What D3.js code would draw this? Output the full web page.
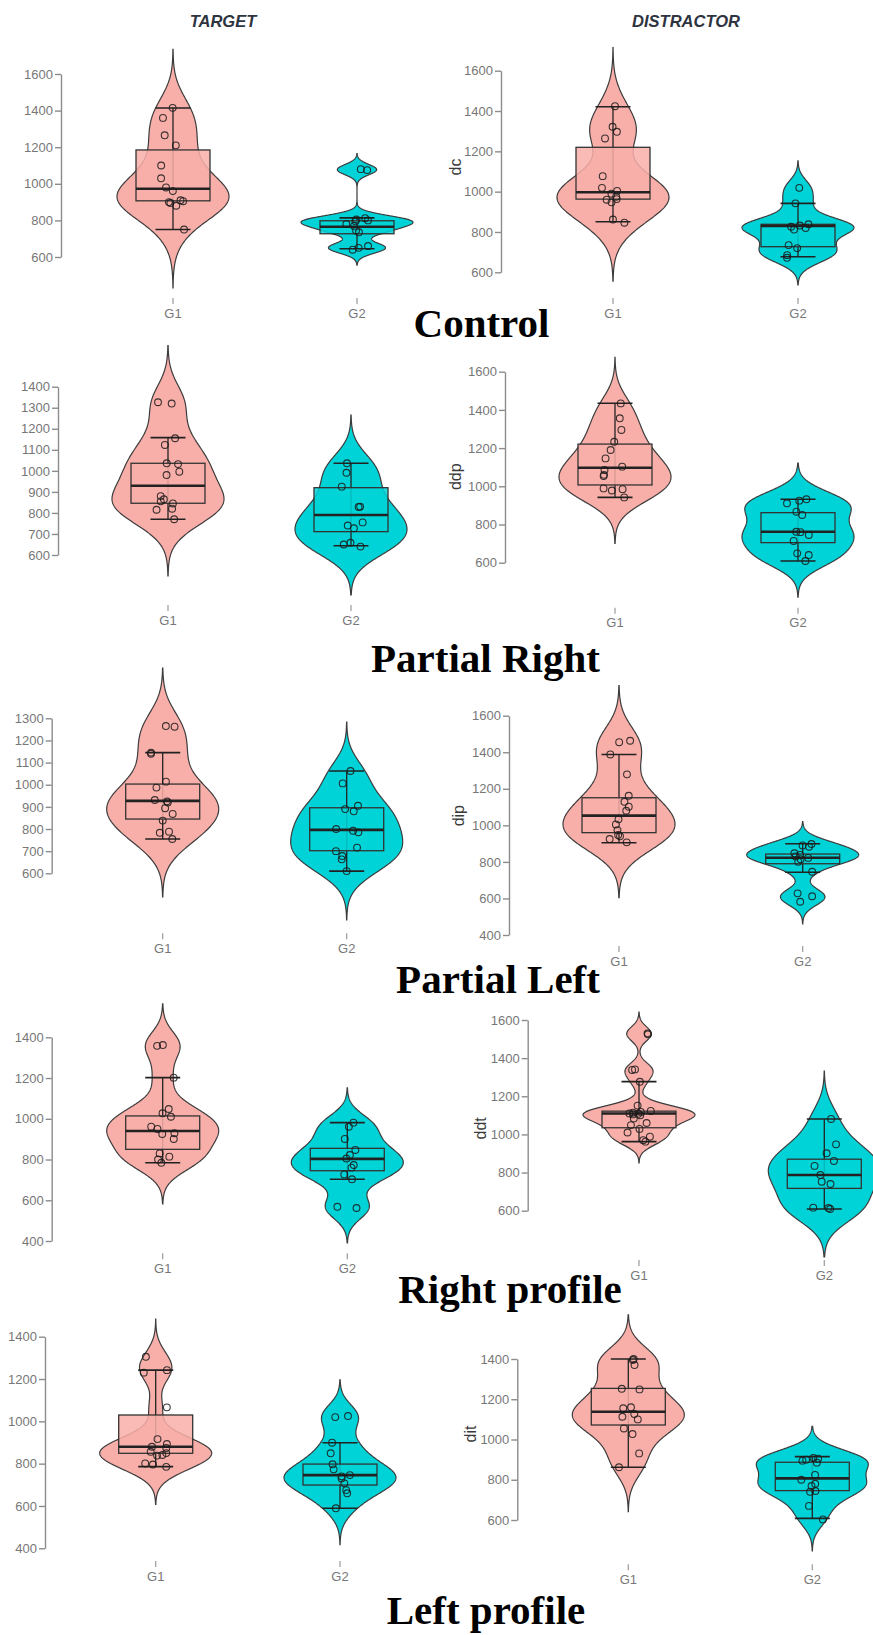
<!DOCTYPE html>
<html><head><meta charset="utf-8">
<script src="https://cdn.jsdelivr.net/npm/d3@7"></script>
<style>body{margin:0;background:#fff} svg{display:block}</style>
</head><body>
<svg id="c" width="873" height="1635"></svg>
<script>
// ---------------- DATA ----------------
const groups = ["G1", "G2"];
const columnTitles = ["TARGET", "DISTRACTOR"];
const rowTitles = ["Control", "Partial Right", "Partial Left", "Right profile", "Left profile"];
const yAxisLabels = ["", "dc", "", "ddp", "", "dip", "", "ddt", "", "dit"];

// tick labels per panel
const ticksCtrlT = [600, 800, 1000, 1200, 1400, 1600];
const ticksCtrlD = [600, 800, 1000, 1200, 1400, 1600];
const ticksPRT = [600, 700, 800, 900, 1000, 1100, 1200, 1300, 1400];
const ticksPRD = [600, 800, 1000, 1200, 1400, 1600];
const ticksPLT = [600, 700, 800, 900, 1000, 1100, 1200, 1300];
const ticksPLD = [400, 600, 800, 1000, 1200, 1400, 1600];
const ticksRPT = [400, 600, 800, 1000, 1200, 1400];
const ticksRPD = [600, 800, 1000, 1200, 1400, 1600];
const ticksLPT = [400, 600, 800, 1000, 1200, 1400];
const ticksLPD = [600, 800, 1000, 1200, 1400];

// observations (ms)
const ctrlTargetG1 = [1415, 1360, 1265, 1210, 1100, 1030, 980, 960, 910, 905, 900, 895, 880, 750];
const ctrlTargetG2 = [1080, 1075, 812, 805, 800, 795, 780, 770, 745, 735, 660, 650, 640];
const ctrlDistG1 = [1424, 1322, 1297, 1264, 1077, 1019, 1004, 990, 975, 963, 960, 947, 862, 846];
const ctrlDistG2 = [1019, 942, 838, 832, 826, 820, 812, 735, 720, 685, 672];
const prTargetG1 = [1326, 1320, 1155, 1123, 1036, 1032, 996, 980, 880, 865, 855, 845, 820, 815, 770];
const prTargetG2 = [1036, 991, 925, 830, 828, 755, 740, 727, 658, 650, 640];
const prDistG1 = [1434, 1356, 1295, 1233, 1190, 1146, 1103, 1085, 1060, 1054, 989, 985, 978, 942];
const prDistG2 = [932, 925, 911, 867, 850, 762, 760, 745, 714, 649, 640, 609];
const plTargetG1 = [1265, 1262, 1145, 1140, 1014, 987, 931, 925, 920, 894, 868, 838, 788, 783, 755];
const plTargetG2 = [1062, 1006, 905, 890, 880, 800, 792, 785, 716, 700, 678, 663, 610];
const plDistG1 = [1463, 1455, 1388, 1279, 1162, 1129, 1102, 1080, 1033, 1005, 974, 947, 940, 925, 907];
const plDistG2 = [898, 890, 883, 847, 838, 830, 822, 815, 801, 746, 628, 612, 582];
const rpTargetG1 = [1362, 1358, 1202, 1048, 1027, 1010, 961, 950, 929, 925, 901, 830, 814, 800, 784];
const rpTargetG2 = [981, 961, 901, 847, 822, 805, 773, 760, 727, 703, 568, 562];
const rpDistG1 = [1530, 1525, 1341, 1338, 1276, 1151, 1123, 1118, 1114, 1110, 1108, 1105, 1100, 1084, 1060, 1049, 1029, 1010, 988, 970, 962];
const rpDistG2 = [1081, 948, 901, 861, 835, 787, 752, 740, 616, 614, 609];
const lpTargetG1 = [1305, 1242, 1230, 1066, 916, 893, 880, 874, 856, 850, 841, 838, 801, 796, 785];
const lpTargetG2 = [1025, 1020, 899, 849, 797, 773, 746, 740, 730, 707, 675, 660, 589];
const lpDistG1 = [1400, 1395, 1370, 1252, 1249, 1160, 1155, 1127, 1113, 1100, 1055, 1027, 931, 862];
const lpDistG2 = [908, 905, 900, 895, 885, 824, 800, 780, 769, 744, 740, 670, 603];

// box statistics: [lower whisker, Q1, median, Q3, upper whisker]
const ctrlTargetG1Box = [750, 907, 973, 1185, 1414];
const ctrlTargetG2Box = [645, 727, 765, 798, 814];
const ctrlDistG1Box = [851, 963, 997, 1220, 1421];
const ctrlDistG2Box = [677, 727, 830, 838, 942];
const prTargetG1Box = [770, 846, 929, 1036, 1158];
const prTargetG2Box = [644, 711, 790, 920, 1036];
const prDistG1Box = [942, 1007, 1097, 1221, 1435];
const prDistG2Box = [609, 705, 762, 862, 932];
const plTargetG1Box = [755, 845, 927, 1003, 1145];
const plTargetG2Box = [610, 702, 796, 896, 1062];
const plDistG1Box = [905, 960, 1053, 1151, 1388];
const plDistG2Box = [743, 790, 823, 843, 899];
const rpTargetG1Box = [784, 850, 940, 1014, 1202];
const rpTargetG2Box = [703, 745, 803, 855, 981];
const rpDistG1Box = [962, 1035, 1110, 1122, 1277];
const rpDistG2Box = [609, 717, 787, 870, 1081];
const lpTargetG1Box = [786, 849, 880, 1030, 1242];
const lpTargetG2Box = [589, 699, 746, 798, 899];
const lpDistG1Box = [862, 1072, 1138, 1254, 1400];
const lpDistG2Box = [608, 746, 807, 887, 915];

// ---------------- LAYOUT ----------------
const panels = [
  {ticks: ticksCtrlT, d: [ctrlTargetG1, ctrlTargetG2], b: [ctrlTargetG1Box, ctrlTargetG2Box], ax: 61, yTop: 74, yBot: 257, cx: [173, 357], lab: 313},
  {ticks: ticksCtrlD, d: [ctrlDistG1, ctrlDistG2], b: [ctrlDistG1Box, ctrlDistG2Box], ax: 501, yTop: 70.7, yBot: 272.3, cx: [613, 798], lab: 313, ylX: 455, ylY: 167},
  {ticks: ticksPRT, d: [prTargetG1, prTargetG2], b: [prTargetG1Box, prTargetG2Box], ax: 58, yTop: 386.7, yBot: 555, cx: [168, 351], lab: 620},
  {ticks: ticksPRD, d: [prDistG1, prDistG2], b: [prDistG1Box, prDistG2Box], ax: 505, yTop: 371.7, yBot: 562.7, cx: [615, 798], lab: 622.7, ylX: 455, ylY: 476.7},
  {ticks: ticksPLT, d: [plTargetG1, plTargetG2], b: [plTargetG1Box, plTargetG2Box], ax: 51.7, yTop: 718.3, yBot: 873.3, cx: [162.7, 346.7], lab: 948.3},
  {ticks: ticksPLD, d: [plDistG1, plDistG2], b: [plDistG1Box, plDistG2Box], ax: 509, yTop: 715.7, yBot: 935, cx: [619, 802.7], lab: 961, ylX: 458, ylY: 815.7},
  {ticks: ticksRPT, d: [rpTargetG1, rpTargetG2], b: [rpTargetG1Box, rpTargetG2Box], ax: 51.7, yTop: 1037.3, yBot: 1241, cx: [162.7, 347.3], lab: 1268.3},
  {ticks: ticksRPD, d: [rpDistG1, rpDistG2], b: [rpDistG1Box, rpDistG2Box], ax: 527.7, yTop: 1020, yBot: 1210.7, cx: [639, 824.3], lab: 1275, ylX: 480, ylY: 1128.3},
  {ticks: ticksLPT, d: [lpTargetG1, lpTargetG2], b: [lpTargetG1Box, lpTargetG2Box], ax: 45, yTop: 1336.7, yBot: 1548.3, cx: [155.7, 340], lab: 1576},
  {ticks: ticksLPD, d: [lpDistG1, lpDistG2], b: [lpDistG1Box, lpDistG2Box], ax: 517.3, yTop: 1359, yBot: 1520, cx: [628.3, 812.3], lab: 1579.3, ylX: 470, ylY: 1434}
];
const rowTitlePos = [[481.5, 336.7], [485.5, 671.7], [498, 993], [510, 1303], [486, 1624]];
const colTitlePos = [[223, 26.5], [686, 26.5]];

const fills = ["#F9AFA9", "#00D3D7"];
const VIOLIN_HALF = 56, BOX_HALF = 37, CAP_HALF = 17.5;

// ---------------- HELPERS ----------------
function nrd0(x) {
  const s = d3.deviation(x);
  const srt = x.slice().sort(d3.ascending);
  const iqr = d3.quantileSorted(srt, 0.75) - d3.quantileSorted(srt, 0.25);
  let lo = Math.min(s, iqr / 1.34);
  if (!lo) lo = s || 1;
  return 0.9 * lo * Math.pow(x.length, -0.2);
}
function kde(x) {
  const bw = nrd0(x);
  const lo = d3.min(x) - 3 * bw, hi = d3.max(x) + 3 * bw;
  const N = 300, out = [];
  for (let i = 0; i <= N; i++) {
    const v = lo + (hi - lo) * i / N;
    let s = 0;
    for (const xi of x) { const z = (v - xi) / bw; s += Math.exp(-0.5 * z * z); }
    out.push([v, s / (x.length * bw * Math.sqrt(2 * Math.PI))]);
  }
  return out;
}

// ---------------- DRAW ----------------
const svg = d3.select("#c");
const rng = d3.randomLcg(0.37);

columnTitles.forEach((t, i) => {
  svg.append("text").attr("x", colTitlePos[i][0]).attr("y", colTitlePos[i][1])
    .attr("text-anchor", "middle").attr("font-family", "Liberation Sans, Arial, sans-serif")
    .attr("font-size", 16.5).attr("font-weight", "bold").attr("font-style", "italic")
    .attr("fill", "#2e3440").text(t);
});

rowTitles.forEach((t, i) => {
  svg.append("text").attr("x", rowTitlePos[i][0]).attr("y", rowTitlePos[i][1])
    .attr("text-anchor", "middle").attr("font-family", "Liberation Serif, Times New Roman, serif")
    .attr("font-size", 41).attr("font-weight", "bold").attr("fill", "#000").text(t);
});

panels.forEach((p, pi) => {
  const g = svg.append("g");
  const y = d3.scaleLinear().domain([p.ticks[0], p.ticks[p.ticks.length - 1]]).range([p.yBot, p.yTop]);
  const x = d3.scaleOrdinal().domain(groups).range(p.cx);

  // y axis
  const axis = g.append("g").attr("transform", `translate(${p.ax},0)`)
    .call(d3.axisLeft(y).tickValues(p.ticks).tickSize(6).tickPadding(2).tickSizeOuter(0).tickFormat(d3.format("d")));
  axis.select(".domain").attr("stroke", "#8c8c8c").attr("stroke-width", 1.4);
  axis.selectAll(".tick line").attr("stroke", "#8c8c8c").attr("stroke-width", 1.4);
  axis.selectAll(".tick text").attr("font-family", "Liberation Sans, Arial, sans-serif")
    .attr("font-size", 13).attr("fill", "#777");

  if (yAxisLabels[pi]) {
    g.append("text").attr("transform", `translate(${p.ylX},${p.ylY}) rotate(-90)`)
      .attr("text-anchor", "middle").attr("dominant-baseline", "central")
      .attr("font-family", "Liberation Sans, Arial, sans-serif").attr("font-size", 16)
      .attr("fill", "#3a3a3a").text(yAxisLabels[pi]);
  }

  groups.forEach((gn, gi) => {
    const cx = x(gn);
    const data = p.d[gi];
    const dens = kde(data);
    const maxD = d3.max(dens, d => d[1]);
    const w = d3.scaleLinear().domain([0, maxD]).range([0, VIOLIN_HALF]);
    const area = d3.area().x0(d => cx - w(d[1])).x1(d => cx + w(d[1])).y(d => y(d[0]));
    g.append("path").datum(dens).attr("d", area)
      .attr("fill", fills[gi]).attr("stroke", "#3c3c3c").attr("stroke-width", 1.2);

    // x tick + label
    g.append("line").attr("x1", cx).attr("x2", cx).attr("y1", p.lab - 15).attr("y2", p.lab - 9)
      .attr("stroke", "#9a9a9a").attr("stroke-width", 1.2);
    g.append("text").attr("x", cx).attr("y", p.lab).attr("dominant-baseline", "central")
      .attr("text-anchor", "middle").attr("font-family", "Liberation Sans, Arial, sans-serif")
      .attr("font-size", 13).attr("fill", "#777").text(gn);

    const [lo, q1, med, q3, hi] = p.b[gi];
    // error bar (whiskers)
    g.append("line").attr("x1", cx).attr("x2", cx).attr("y1", y(lo)).attr("y2", y(hi))
      .attr("stroke", "#222").attr("stroke-width", 1.3);
    [lo, hi].forEach(v => g.append("line").attr("x1", cx - CAP_HALF).attr("x2", cx + CAP_HALF)
      .attr("y1", y(v)).attr("y2", y(v)).attr("stroke", "#222").attr("stroke-width", 1.6));
    // box
    g.append("rect").attr("x", cx - BOX_HALF).attr("width", 2 * BOX_HALF)
      .attr("y", y(q3)).attr("height", y(q1) - y(q3))
      .attr("fill", fills[gi]).attr("fill-opacity", 0.85)
      .attr("stroke", "#333").attr("stroke-width", 1.3);
    g.append("line").attr("x1", cx - BOX_HALF).attr("x2", cx + BOX_HALF)
      .attr("y1", y(med)).attr("y2", y(med)).attr("stroke", "#222").attr("stroke-width", 2.6);

    // jittered points
    data.forEach(v => {
      const jx = (rng() - 0.5) * 24;
      g.append("circle").attr("cx", cx + jx).attr("cy", y(v)).attr("r", 3.4)
        .attr("fill", "none").attr("stroke", "#1a1a1a").attr("stroke-opacity", 0.85).attr("stroke-width", 1.1);
    });
  });
});
</script></body></html>
